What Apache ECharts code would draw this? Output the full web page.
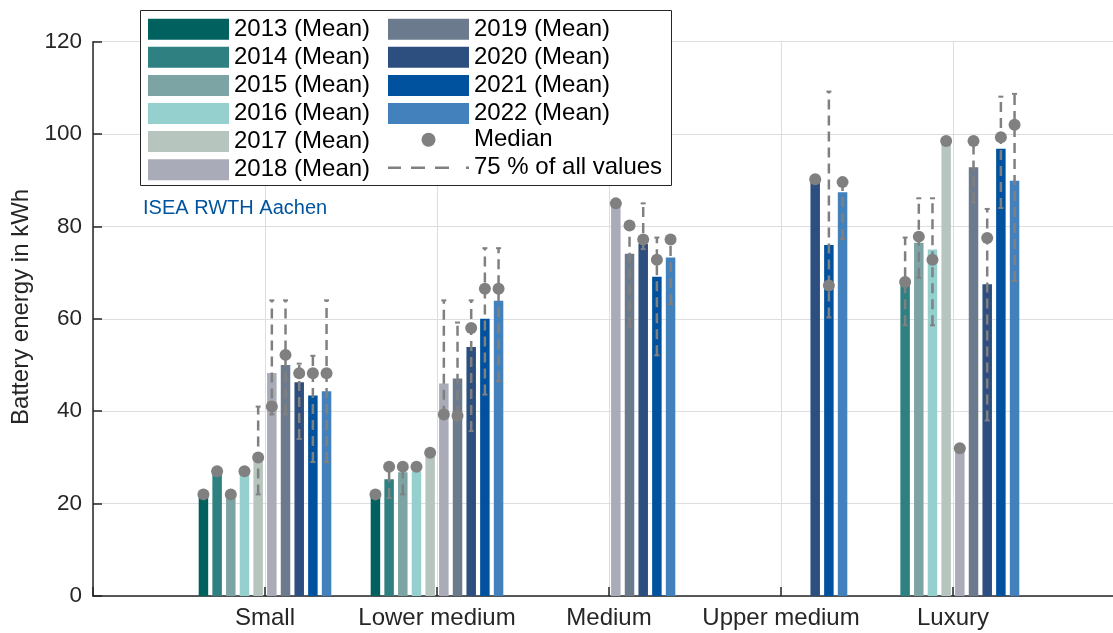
<!DOCTYPE html>
<html>
<head>
<meta charset="utf-8">
<script src="https://cdn.jsdelivr.net/npm/echarts@6/dist/echarts.min.js"></script>
<style>
html,body{margin:0;padding:0;background:#fff;}
#chart{width:1113px;height:633px;}
</style>
</head>
<body>
<div id="chart"></div>
<script>
// ---------------- data ----------------
const categories = ['Small', 'Lower medium', 'Medium', 'Upper medium', 'Luxury'];
const years = ['2013', '2014', '2015', '2016', '2017', '2018', '2019', '2020', '2021', '2022'];
const yTicks = [0, 20, 40, 60, 80, 100, 120];

// mean battery energy (kWh) per category
const mean2013 = [22, 21.5, null, null, null];
const mean2014 = [26.5, 25.3, null, null, 67.5];
const mean2015 = [21.5, 26.8, null, null, 76.5];
const mean2016 = [26.5, 27, null, null, 75];
const mean2017 = [29.5, 30.2, null, null, 98];
const mean2018 = [48.3, 46, 84.5, null, 32];
const mean2019 = [50, 47.1, 74.1, null, 92.8];
const mean2020 = [46.3, 53.9, 76.2, 90, 67.5];
const mean2021 = [43.4, 60, 69.1, 76, 96.8];
const mean2022 = [44.3, 63.9, 73.3, 87.4, 89.9];

// median
const med2013 = [22, 22, null, null, null];
const med2014 = [27, 28, null, null, 68];
const med2015 = [22, 28, null, null, 77.8];
const med2016 = [27, 28, null, null, 72.8];
const med2017 = [30, 31, null, null, 98.5];
const med2018 = [41, 39.3, 85, null, 32];
const med2019 = [52.2, 39, 80.2, null, 98.5];
const med2020 = [48.2, 58, 77.2, 90.2, 77.5];
const med2021 = [48.2, 66.5, 72.8, 67.2, 99.3];
const med2022 = [48.2, 66.5, 77.2, 89.6, 102];

// 75 % range (low / high)
const low2013 = [null, 21.2, null, null, null];
const high2013 = [null, 22, null, null, null];
const low2014 = [null, 21.2, null, null, 58.6];
const high2014 = [null, 28, null, null, 77.6];
const low2015 = [null, 22, null, null, 68.9];
const high2015 = [null, 28, null, null, 86.1];
const low2016 = [null, null, null, null, 58.6];
const high2016 = [null, null, null, null, 86.1];
const low2017 = [22, null, null, null, null];
const high2017 = [41, null, null, null, null];
const low2018 = [39.3, 39, null, null, null];
const high2018 = [64, 64, null, null, null];
const low2019 = [39.3, 39, 58.3, null, 85.2];
const high2019 = [64, 59.2, 80, null, 98.5];
const low2020 = [34, 35.7, 75.1, null, 38];
const high2020 = [50.3, 64, 85, null, 83.8];
const low2021 = [29, 43.6, 52.1, 60.3, 84];
const high2021 = [52, 75.3, 77.6, 109.2, 108.1];
const low2022 = [29, 46.5, 63.2, 77.3, 68.2];
const high2022 = [64, 75.3, 77, 89.5, 108.7];

// ---------------- styles ----------------
const yearColors = ['#00615f', '#2f8080', '#7da4a4', '#96d0ce', '#b6c6bf',
                    '#a9acb8', '#6b7a8c', '#2c4f80', '#00529e', '#4381bc'];
const GREY = '#808080';
const AXIS = '#262626';
const FONT = '"Liberation Sans", Arial, Helvetica, sans-serif';
const BAR_W = 9.5;
const BAR_GAP = 0.44;
const BAR_STEP = BAR_W * (1 + BAR_GAP);

const means = [mean2013, mean2014, mean2015, mean2016, mean2017, mean2018, mean2019, mean2020, mean2021, mean2022];
const medians = [med2013, med2014, med2015, med2016, med2017, med2018, med2019, med2020, med2021, med2022];
const lows = [low2013, low2014, low2015, low2016, low2017, low2018, low2019, low2020, low2021, low2022];
const highs = [high2013, high2014, high2015, high2016, high2017, high2018, high2019, high2020, high2021, high2022];

// axis with an empty slot on each side so the categories sit on the ticks
const axisCats = [''].concat(categories, ['']);
const pad = arr => [null].concat(arr, [null]);

const seriesNames = years.map(y => y + ' (Mean)');
const barSeries = years.map((y, i) => ({
  name: seriesNames[i],
  type: 'bar',
  data: pad(means[i]),
  barWidth: BAR_W,
  barGap: (BAR_GAP * 100) + '%',
  itemStyle: { color: yearColors[i] },
  z: 2,
  animation: false
}));

const whiskerData = [];
const medianData = [];
years.forEach((y, yi) => {
  categories.forEach((c, ci) => {
    if (lows[yi][ci] != null && highs[yi][ci] != null) {
      whiskerData.push([ci + 1, yi, lows[yi][ci], highs[yi][ci]]);
    }
    if (medians[yi][ci] != null) {
      medianData.push([ci + 1, yi, medians[yi][ci]]);
    }
  });
});
const mid = (years.length - 1) / 2;

const legendText = { fontSize: 24, color: '#000', fontFamily: FONT };

const option = {
  animation: false,
  textStyle: { fontFamily: FONT },
  grid: { left: 93, right: -12, top: 41.7, bottom: 37, containLabel: false, outerBoundsMode: 'none' },
  xAxis: {
    type: 'category',
    data: axisCats,
    boundaryGap: false,
    axisLine: { lineStyle: { color: AXIS, width: 1.5 } },
    axisTick: { inside: true, length: 9, interval: 0, lineStyle: { color: AXIS, width: 1.5 } },
    axisLabel: { fontSize: 24, color: AXIS, margin: 10, interval: 0, fontFamily: FONT },
    splitLine: { show: true, interval: 0, lineStyle: { color: '#dedede', width: 1 } }
  },
  yAxis: {
    type: 'value',
    min: yTicks[0],
    max: yTicks[yTicks.length - 1],
    interval: yTicks[1] - yTicks[0],
    name: 'Battery energy in kWh',
    nameLocation: 'middle',
    nameGap: 57,
    nameTextStyle: { fontSize: 24, color: AXIS, fontFamily: FONT, padding: [0, 0, 0, 24] },
    axisLine: { show: true, lineStyle: { color: AXIS, width: 1.5 } },
    axisTick: { show: true, inside: true, length: 9, lineStyle: { color: AXIS, width: 1.5 } },
    axisLabel: { fontSize: 22.5, color: AXIS, margin: 11, fontFamily: FONT },
    splitLine: { show: true, lineStyle: { color: '#dedede', width: 1 } }
  },
  legend: [
    {
      data: seriesNames.slice(0, 6),
      orient: 'vertical', left: 148, top: 17.2, padding: 0,
      itemWidth: 81, itemHeight: 21, itemGap: 4.1, icon: 'rect',
      selectedMode: false,
      textStyle: legendText, z: 10
    },
    {
      data: seriesNames.slice(6),
      orient: 'vertical', left: 388, top: 17.2, padding: 0,
      itemWidth: 81, itemHeight: 21, itemGap: 4.1, icon: 'rect',
      selectedMode: false,
      textStyle: legendText, z: 10
    },
    {
      data: [
        { name: 'Median', icon: 'circle' },
        { name: '75 % of all values', icon: 'path://M0,0h13v2.5h-13z M23,0h14v2.5h-14z M47,0h14v2.5h-14z M78,0h3v2.5h-3z' }
      ],
      orient: 'vertical', left: 388, top: 127.7, padding: 0,
      itemWidth: 81, itemHeight: 14, itemGap: 4.1,
      selectedMode: false,
      textStyle: legendText, z: 10
    }
  ],
  graphic: [
    {
      type: 'rect', z: 5,
      shape: { x: 140.5, y: 10.5, width: 531, height: 175 },
      style: { fill: '#fff', stroke: AXIS, lineWidth: 1 }
    },
    {
      type: 'text', left: 143, top: 198, z: 5,
      style: { text: 'ISEA RWTH Aachen', fontSize: 20, fill: '#00549f', fontFamily: FONT }
    }
  ],
  series: barSeries.concat([
    {
      name: '75 % of all values',
      type: 'custom',
      data: whiskerData,
      encode: { x: 0, y: [2, 3] },
      itemStyle: { color: GREY },
      z: 3,
      renderItem: function (params, api) {
        const c = api.value(0), yi = api.value(1);
        const lowP = api.coord([c, api.value(2)]);
        const highP = api.coord([c, api.value(3)]);
        const x = lowP[0] + (yi - mid) * BAR_STEP;
        return {
          type: 'group',
          children: [
            { type: 'line', shape: { x1: x, y1: lowP[1], x2: x, y2: highP[1] },
              style: { stroke: GREY, lineWidth: 2.5, lineDash: [10, 6] } },
            { type: 'line', shape: { x1: x - 2.5, y1: highP[1], x2: x + 2.5, y2: highP[1] },
              style: { stroke: GREY, lineWidth: 2 } },
            { type: 'line', shape: { x1: x - 2.5, y1: lowP[1], x2: x + 2.5, y2: lowP[1] },
              style: { stroke: GREY, lineWidth: 2 } }
          ]
        };
      }
    },
    {
      name: 'Median',
      type: 'custom',
      data: medianData,
      encode: { x: 0, y: 2 },
      itemStyle: { color: GREY },
      z: 4,
      renderItem: function (params, api) {
        const c = api.value(0), yi = api.value(1);
        const p = api.coord([c, api.value(2)]);
        const x = p[0] + (yi - mid) * BAR_STEP;
        return { type: 'circle', shape: { cx: x, cy: p[1], r: 6 }, style: { fill: GREY } };
      }
    }
  ])
};

const chart = echarts.init(document.getElementById('chart'), null, { renderer: 'canvas' });
chart.setOption(option);
</script>
</body>
</html>
